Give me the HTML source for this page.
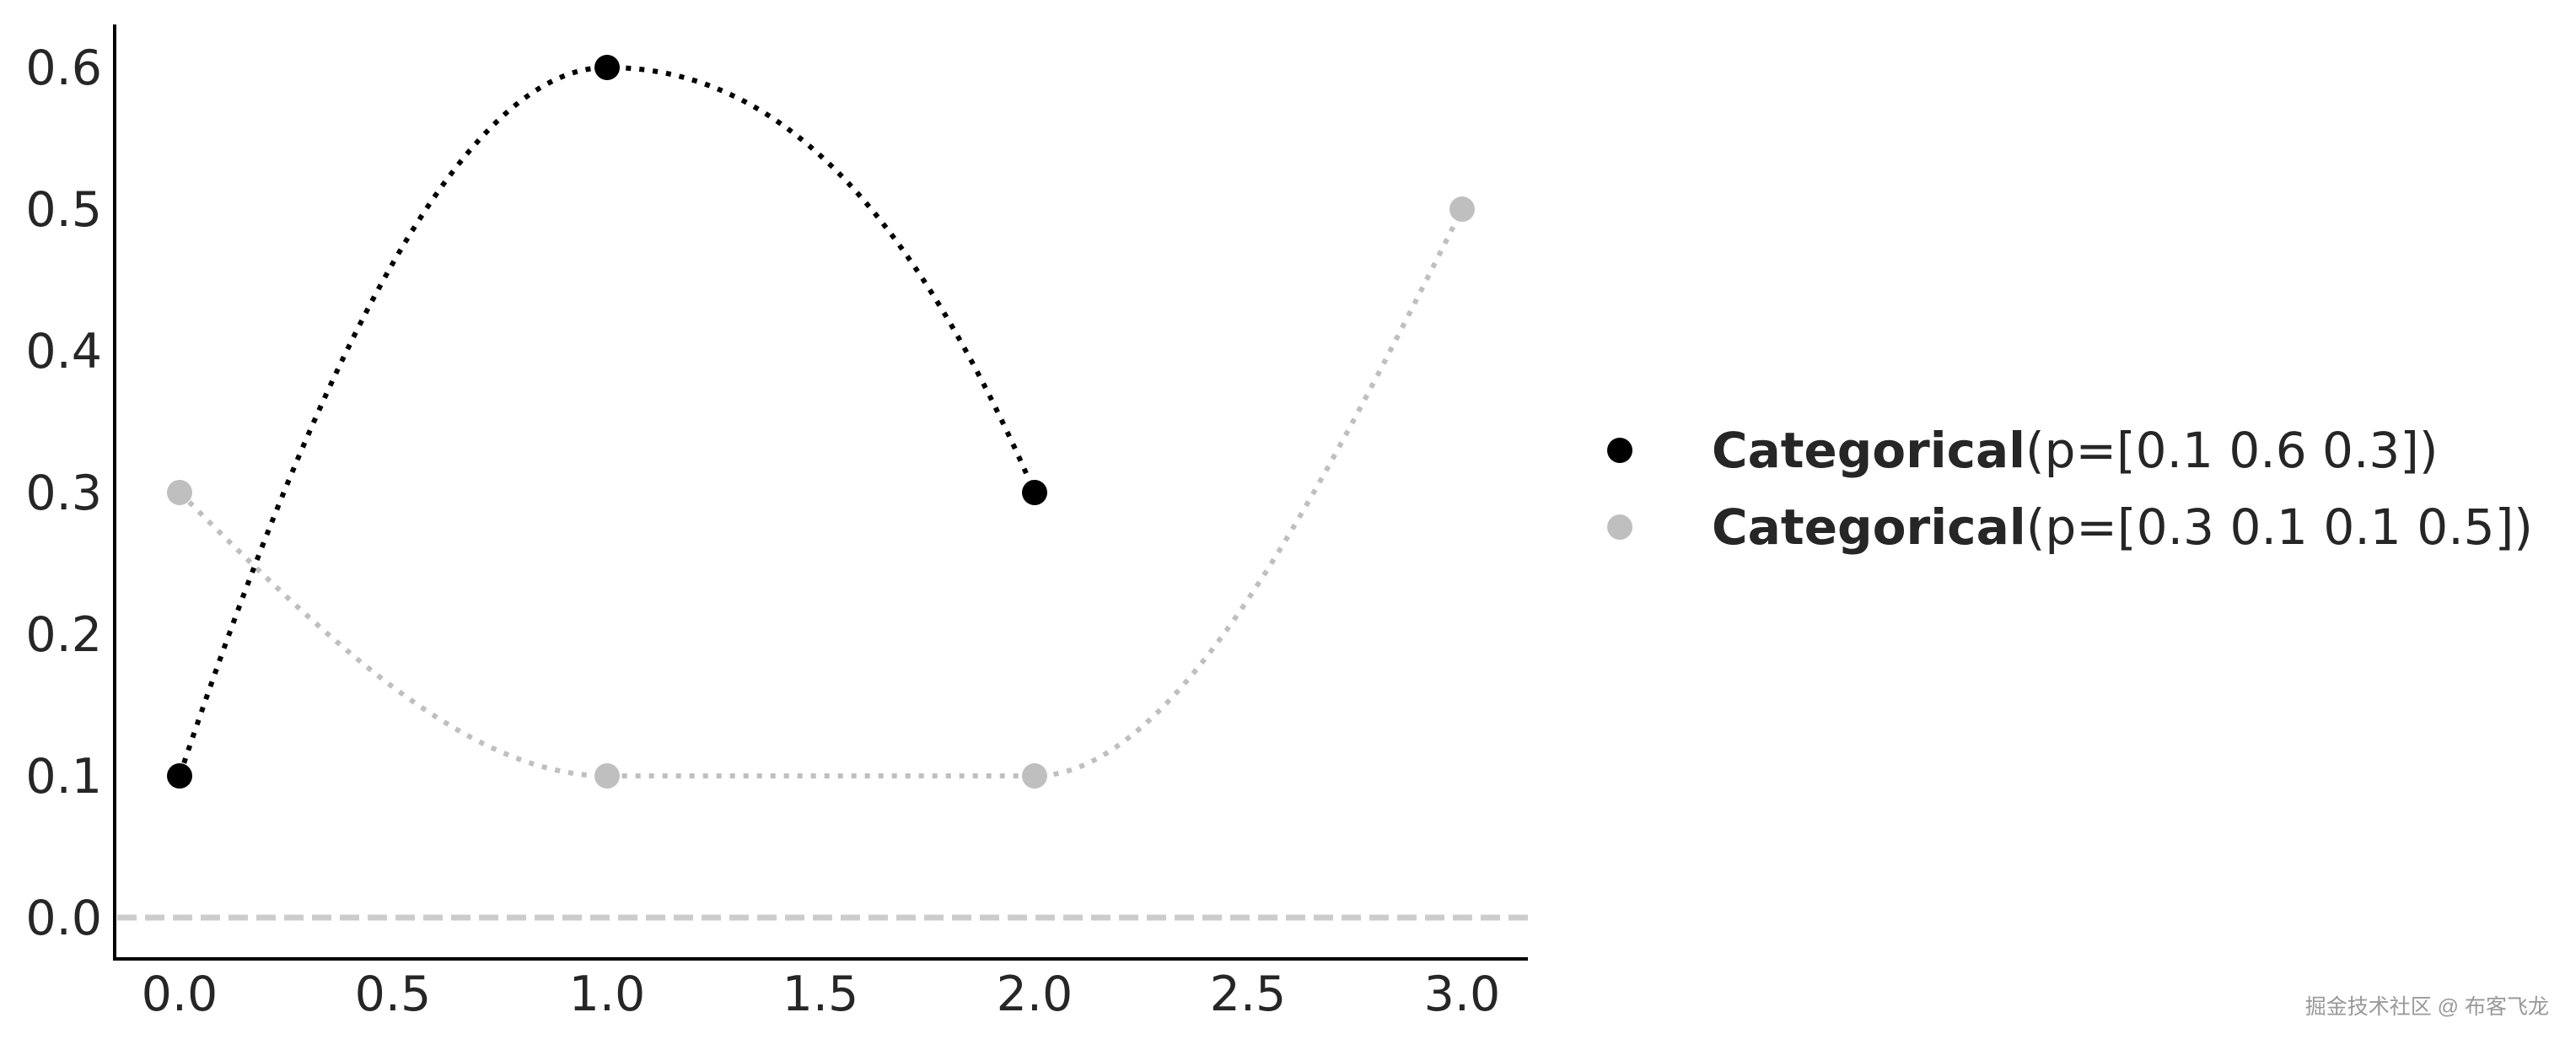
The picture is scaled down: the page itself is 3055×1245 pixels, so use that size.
<!DOCTYPE html>
<html><head><meta charset="utf-8"><style>html,body{margin:0;padding:0;background:#fff}</style></head><body>
<svg width="3055" height="1240" xmlns="http://www.w3.org/2000/svg" font-family="DejaVu Sans, Liberation Sans, sans-serif">
<rect width="3055" height="1240" fill="#fff"/>
<line x1="139" y1="1088" x2="1812" y2="1088" stroke="#cccccc" stroke-width="7" stroke-dasharray="23,10"/>
<line x1="136" y1="29" x2="136" y2="1138" stroke="#000" stroke-width="4"/>
<line x1="134" y1="1137" x2="1812" y2="1137" stroke="#000" stroke-width="4"/>
<g fill="#262626" font-size="57" text-anchor="end">
<text x="121" y="1108">0.0</text>
<text x="121" y="940">0.1</text>
<text x="121" y="772">0.2</text>
<text x="121" y="604">0.3</text>
<text x="121" y="436">0.4</text>
<text x="121" y="268">0.5</text>
<text x="121" y="100">0.6</text>
</g>
<g fill="#262626" font-size="57" text-anchor="middle">
<text x="213" y="1198">0.0</text>
<text x="466" y="1198">0.5</text>
<text x="720" y="1198">1.0</text>
<text x="973" y="1198">1.5</text>
<text x="1227" y="1198">2.0</text>
<text x="1480" y="1198">2.5</text>
<text x="1734" y="1198">3.0</text>
</g>
<path d="M213,584 C382,752 551,920 720,920 L1227,920 C1396,920 1565,584 1734,248" fill="none" stroke="#bfbfbf" stroke-width="6" stroke-dasharray="6,10"/>
<path d="M213,920 C382,416 551,80 720,80 C889,80 1058,192 1227,584" fill="none" stroke="#000" stroke-width="6" stroke-dasharray="6,10"/>
<g fill="#bfbfbf">
<circle cx="213" cy="584" r="15"/><circle cx="720" cy="920" r="15"/><circle cx="1227" cy="920" r="15"/><circle cx="1734" cy="248" r="15"/>
</g>
<g fill="#000">
<circle cx="213" cy="920" r="15"/><circle cx="720" cy="80" r="15"/><circle cx="1227" cy="584" r="15"/>
</g>
<circle cx="1921" cy="534" r="15" fill="#000"/>
<circle cx="1921" cy="625" r="15" fill="#bfbfbf"/>
<g fill="#262626" font-size="58">
<text x="2030" y="554"><tspan font-weight="bold">Categorical</tspan>(p=[0.1 0.6 0.3])</text>
<text x="2030" y="645" textLength="974" lengthAdjust="spacingAndGlyphs"><tspan font-weight="bold">Categorical</tspan>(p=[0.3 0.1 0.1 0.5])</text>
</g>
<text x="3023" y="1202" text-anchor="end" font-size="25" fill="#999" font-family="Liberation Sans, Noto Sans CJK SC, sans-serif">掘金技术社区 @ 布客飞龙</text>
</svg>
</body></html>
